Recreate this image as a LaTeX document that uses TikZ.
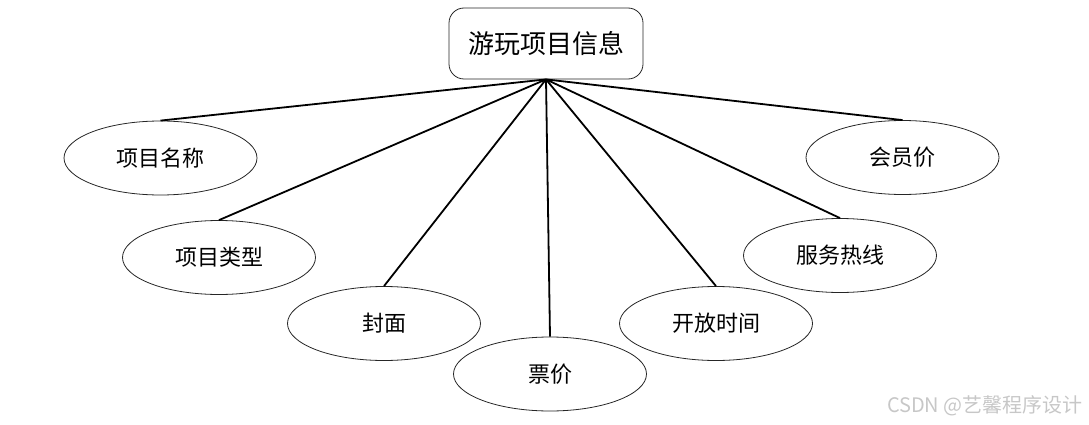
\documentclass[tikz,border=0pt]{standalone}
\usepackage{fontspec}
\setmainfont{Noto Sans CJK SC}
\usetikzlibrary{shapes.geometric}
\begin{document}
\begin{tikzpicture}[x=1pt,y=-1pt,
  attr/.style={draw=black!85,line width=0.8pt,ellipse,minimum width=193pt,minimum height=74pt,inner sep=0pt,font=\fontsize{22}{25}\selectfont},
  entity/.style={draw=black!85,line width=0.8pt,rectangle,rounded corners=15pt,minimum width=194pt,minimum height=71pt,inner sep=0pt,font=\fontsize{26}{29}\selectfont},
  link/.style={line width=1.8pt,black}]
\useasboundingbox (0,0) rectangle (1089,425);
\node[entity] (root) at (546,43.5) {游玩项目信息};
\node[attr] (a1) at (160.5,158) {项目名称};
\node[attr] (a2) at (219,257.5) {项目类型};
\node[attr] (a3) at (384,323.5) {封面};
\node[attr] (a4) at (550,374) {票价};
\node[attr] (a5) at (716,323.5) {开放时间};
\node[attr] (a6) at (840,255.5) {服务热线};
\node[attr] (a7) at (902.5,157.5) {会员价};
\foreach \n in {a1,a2,a3,a4,a5,a6,a7}{\draw[link] (root.south) -- (\n.north);}
\node[anchor=east,text=black!22,font=\fontsize{20}{23}\selectfont,inner sep=0pt] (wm) at (1083,406) {CSDN @艺馨程序设计};
\end{tikzpicture}
\end{document}
